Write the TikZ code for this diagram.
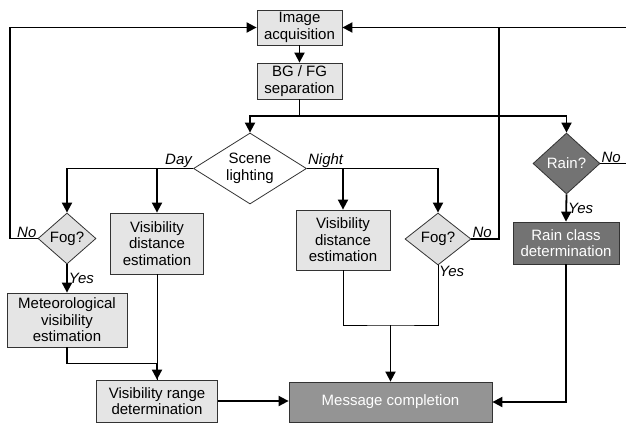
\documentclass[tikz,border=0pt]{standalone}
\usepackage{fontspec}
\setmainfont{Liberation Sans}
\usetikzlibrary{shapes.geometric,arrows.meta}

\begin{document}
\begin{tikzpicture}[x=1pt,y=-1pt,
  font=\fontsize{15}{16.5}\selectfont,
  box/.style={draw=black!80,line width=0.8pt,fill=black!10,align=center,inner sep=0pt},
  darkbox/.style={box,fill=black!55,text=white},
  decision/.style={diamond,draw=black!80,line width=0.8pt,fill=black!12,align=center,inner sep=0pt},
  flow/.style={line width=1.8pt,-{Triangle[length=10pt,width=10pt]}},
  plain/.style={line width=1.8pt},
  thinline/.style={line width=0.8pt},
  lbl/.style={font=\fontsize{15}{16.5}\selectfont\itshape,inner sep=1pt}]
\useasboundingbox (0,0) rectangle (626,423);

\node[box,minimum width=85pt,minimum height=35pt] (img) at (299.5,27.5) {Image\\acquisition};
\node[box,minimum width=85pt,minimum height=36pt] (sep) at (299.5,81) {BG / FG\\separation};
\node[decision,fill=white,aspect=1.6,minimum width=113pt,minimum height=71pt] (scene) at (250,168.5) {Scene\\lighting};
\node[decision,aspect=1.14,minimum width=58pt,minimum height=51pt] (fogL) at (67,238.5) {Fog?};
\node[box,minimum width=93pt,minimum height=61pt] (visL) at (157,243.5) {Visibility\\distance\\estimation};
\node[box,minimum width=120pt,minimum height=54pt] (met) at (67,320) {Meteorological\\visibility\\estimation};
\node[box,minimum width=121pt,minimum height=42pt] (range) at (157,401) {Visibility range\\determination};
\node[box,minimum width=94pt,minimum height=60pt] (visN) at (343,240) {Visibility\\distance\\estimation};
\node[decision,aspect=1.27,minimum width=66pt,minimum height=52pt] (fogN) at (438,239) {Fog?};
\node[decision,fill=black!55,text=white,aspect=1.1,minimum width=67pt,minimum height=61pt] (rain) at (566.5,163.5) {Rain?};
\node[darkbox,minimum width=106pt,minimum height=42pt] (class) at (566,243) {Rain class\\determination};
\node[darkbox,fill=black!42,minimum width=203pt,minimum height=40pt] (msg) at (390.5,402) {Message completion};

\coordinate (split) at (299.5,116);
\coordinate (retL) at (10,27.5);
\coordinate (join) at (390.5,325);
\coordinate (retN) at (499,27.5);
\coordinate (topend) at (626,27.5);
\coordinate (rainend) at (626,163.5);

\draw[flow] (img.south) -- (sep.north);
\draw[plain] (sep.south) -- (split);
\draw[flow] (split) -| (scene.north);
\draw[flow] (split) -| (rain.north);

\draw[flow] (scene.west) -| (fogL.north);
\draw[flow] (scene.west -| visL.north) -- (visL.north);
\node[lbl,anchor=south east] (day) at (scene.west) {Day};
\draw[flow] (scene.east) -| (fogN.north);
\draw[flow] (scene.east -| visN.north) -- (visN.north);
\node[lbl,anchor=south west] (night) at (scene.east) {Night};

\draw[flow] (fogL.west) -| (retL) -- (img.west);
\node[lbl,anchor=south east] (noL) at (fogL.west) {No};
\draw[flow] (fogL.south) -- node[lbl,right] (yesL) {Yes} (met.north);
\draw[thinline] (visL.south) -- (range.north);
\draw[flow] (met.south) -- ++(0,16) -| (range.north);
\draw[flow] (range.east) -- (range.east -| msg.west);

\draw[thinline] (visN.south) |- (join) -| (fogN.south);
\node[lbl,anchor=north west] (yesN) at (fogN.south) {Yes};
\draw[flow] (join) -- (msg.north);
\draw[plain] (fogN.east) -| (retN);
\node[lbl,anchor=south west] (noN) at (fogN.east) {No};
\draw[flow] (topend) -- (img.east);

\draw[plain] (rain.east) -- (rainend);
\node[lbl,anchor=south west] (noR) at (rain.east) {No};
\draw[flow] (rain.south) -- node[lbl,right] (yesR) {Yes} (class.north);
\draw[flow] (class.south) |- (msg.east);

\end{tikzpicture}
\end{document}
